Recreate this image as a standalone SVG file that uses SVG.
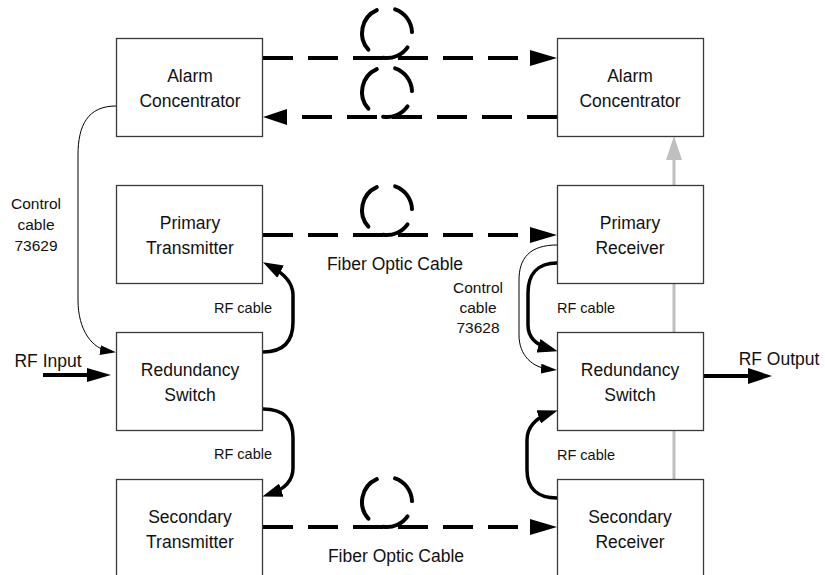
<svg xmlns="http://www.w3.org/2000/svg" width="825" height="575" viewBox="0 0 825 575">
<style>
.box{fill:#fff;stroke:#3a3a3a;stroke-width:1.3}
.t{font-family:"Liberation Sans",Arial,sans-serif;font-size:17.5px;fill:#111;text-anchor:middle}
.s{font-family:"Liberation Sans",Arial,sans-serif;font-size:14.5px;fill:#111;text-anchor:middle}
.c{font-family:"Liberation Sans",Arial,sans-serif;font-size:15.5px;fill:#111;text-anchor:middle}
.fib{fill:none;stroke:#000;stroke-width:4;stroke-dasharray:30 15}
.loop{fill:none;stroke:#000;stroke-width:4;stroke-linecap:round}
.rf{fill:none;stroke:#000;stroke-width:3.5}
.ctl{fill:none;stroke:#000;stroke-width:1}
.ah{fill:#000}
</style>
<defs>
<marker id="mThick" viewBox="0 0 20 14" refX="12" refY="7" markerWidth="20" markerHeight="14" markerUnits="userSpaceOnUse" orient="auto"><path d="M0,0 L20,7 L0,14 z" fill="#000"/></marker>
<marker id="mThin" viewBox="0 0 16 10" refX="10" refY="5" markerWidth="16" markerHeight="10" markerUnits="userSpaceOnUse" orient="auto"><path d="M0,0 L16,5 L0,10 z" fill="#000"/></marker>
<path id="loopShape" d="M-10.2,-22.8 A25,25 0 0 0 -18.6,16.7 M-3.9,24.7 A25,25 0 0 0 20.5,14.3 M25,-0.9 A25,25 0 0 0 8.1,-23.6"/>
</defs>

<g id="connectors">
  <line x1="674" y1="479" x2="674" y2="158" stroke="#bfbfbf" stroke-width="3"/>
  <polygon points="674,136 666,160 682,160" fill="#bfbfbf"/>

  <path class="fib" d="M263,58 L530,58"/>
  <polygon class="ah" points="530,50 557,58 530,66"/>
  <use href="#loopShape" class="loop" x="387" y="33"/>
  <path class="fib" d="M557,117 L287,117"/>
  <polygon class="ah" points="287,109 263,117 287,125"/>
  <use href="#loopShape" class="loop" x="387" y="92"/>
  <path class="fib" d="M263,235 L530,235"/>
  <polygon class="ah" points="530,227 557,235 530,243"/>
  <use href="#loopShape" class="loop" x="387" y="210"/>
  <path class="fib" d="M263,527 L530,527"/>
  <polygon class="ah" points="530,519 557,527 530,535"/>
  <use href="#loopShape" class="loop" x="387" y="502"/>

  <path class="rf" d="M263,352 C285,352 293,340 293,322 L293,295 C293,283 285,274 270,266" marker-end="url(#mThick)"/>
  <path class="rf" d="M263,409 C285,409 293,420 293,438 L293,468 C293,480 285,489 270,494" marker-end="url(#mThick)"/>
  <path class="rf" d="M557,263 C537,263 528,275 528,293 L528,325 C528,337 536,345 550,349" marker-end="url(#mThick)"/>
  <path class="rf" d="M557,498 C537,498 527,488 527,470 L527,440 C527,428 535,418 550,413" marker-end="url(#mThick)"/>

  <path class="ctl" d="M116,106 C88,106 78,125 78,155 L78,300 C78,330 92,349 110,351.5" marker-end="url(#mThin)"/>
  <path class="ctl" d="M557,245 C530,245 519,258 519,280 L519,335 C519,355 532,368 551,369.5" marker-end="url(#mThin)"/>

  <line x1="43" y1="375" x2="90" y2="375" stroke="#000" stroke-width="4"/>
  <polygon class="ah" points="87,368 111,375 87,382"/>
  <line x1="703" y1="376" x2="750" y2="376" stroke="#000" stroke-width="4"/>
  <polygon class="ah" points="748,368 772,376 748,384"/>
</g>

<g id="labels">
  <text class="t" x="395" y="270">Fiber Optic Cable</text>
  <text class="t" x="396" y="562">Fiber Optic Cable</text>
  <text class="c" x="36" y="209">Control</text>
  <text class="c" x="36" y="230">cable</text>
  <text class="c" x="36" y="251">73629</text>
  <text class="c" x="478" y="293">Control</text>
  <text class="c" x="478" y="313">cable</text>
  <text class="c" x="478" y="333">73628</text>
  <text class="s" x="243" y="313">RF cable</text>
  <text class="s" x="243" y="459">RF cable</text>
  <text class="s" x="586" y="313">RF cable</text>
  <text class="s" x="586" y="460">RF cable</text>
  <text class="t" x="48" y="367">RF Input</text>
  <text class="t" x="779" y="365">RF Output</text>
</g>

<g id="alarm-left"><rect class="box" x="116.5" y="38.5" width="146" height="98"/><text class="t" x="190" y="82">Alarm</text><text class="t" x="190" y="107">Concentrator</text></g>
<g id="primary-tx"><rect class="box" x="116.5" y="185.5" width="146" height="98"/><text class="t" x="190" y="229">Primary</text><text class="t" x="190" y="254">Transmitter</text></g>
<g id="switch-left"><rect class="box" x="116.5" y="332.5" width="146" height="98"/><text class="t" x="190" y="376">Redundancy</text><text class="t" x="190" y="401">Switch</text></g>
<g id="secondary-tx"><rect class="box" x="116.5" y="479.5" width="146" height="98"/><text class="t" x="190" y="523">Secondary</text><text class="t" x="190" y="548">Transmitter</text></g>

<g id="alarm-right"><rect class="box" x="557.5" y="38.5" width="146" height="98"/><text class="t" x="630" y="82">Alarm</text><text class="t" x="630" y="107">Concentrator</text></g>
<g id="primary-rx"><rect class="box" x="557.5" y="185.5" width="146" height="98"/><text class="t" x="630" y="229">Primary</text><text class="t" x="630" y="254">Receiver</text></g>
<g id="switch-right"><rect class="box" x="557.5" y="332.5" width="146" height="98"/><text class="t" x="630" y="376">Redundancy</text><text class="t" x="630" y="401">Switch</text></g>
<g id="secondary-rx"><rect class="box" x="557.5" y="479.5" width="146" height="98"/><text class="t" x="630" y="523">Secondary</text><text class="t" x="630" y="548">Receiver</text></g>
</svg>
